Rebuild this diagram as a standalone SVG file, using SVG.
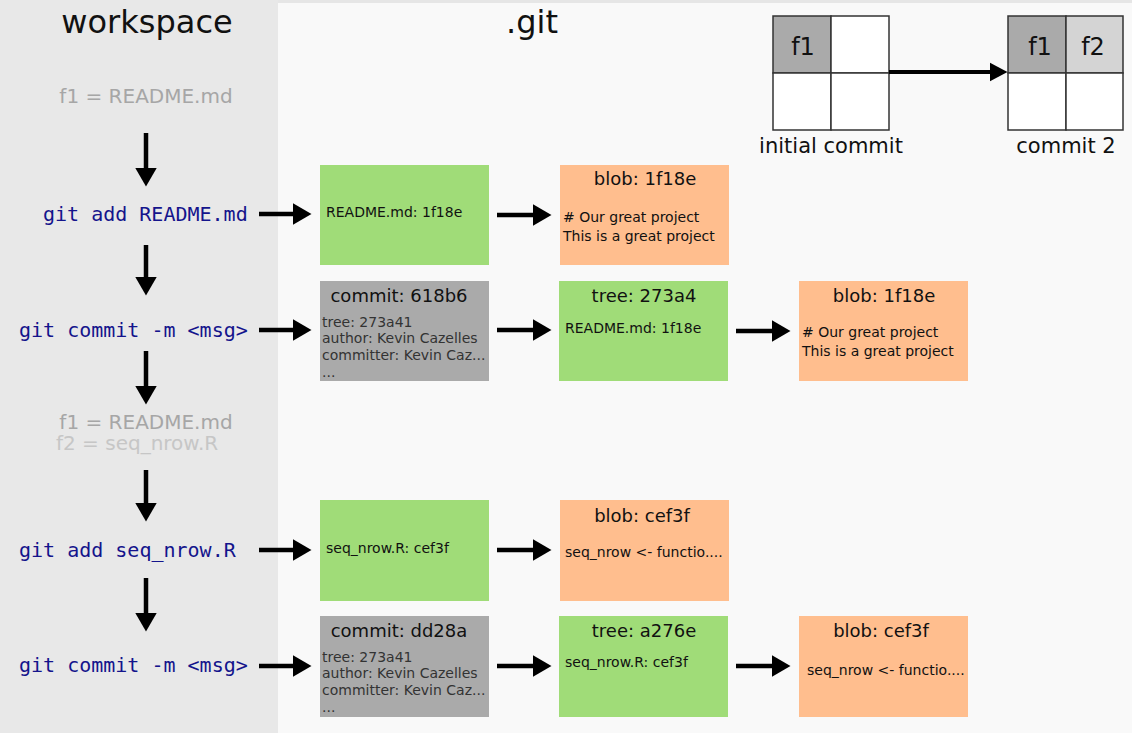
<svg xmlns="http://www.w3.org/2000/svg" width="1132" height="733" viewBox="0 0 1132 733">
<style>
.sans{font-family:"DejaVu Sans","Liberation Sans",sans-serif}
.mono{font-family:"DejaVu Sans Mono","Liberation Mono",monospace;font-size:20px;fill:#14148c}
.h1{font-size:32px;fill:#111;text-anchor:middle}
.ws1{font-size:20px;fill:#a6a6a6}
.ws2{font-size:20px;fill:#c6c6c6}
.title{font-size:18px;fill:#111;text-anchor:middle}
.body{font-size:14px;fill:#111}
.cbody{font-size:14px;fill:#333}
.green{fill:#a0dc78}
.orange{fill:#ffbe8e}
.gray{fill:#aaaaaa}
.cell{stroke:#333;stroke-width:1.5}
.grid{font-size:24px;fill:#111;text-anchor:middle}
.lbl{font-size:21px;fill:#111;text-anchor:middle}
.conn{stroke:#000;stroke-width:4.5;fill:none;marker-end:url(#head)}
.conn2{stroke:#000;stroke-width:4;fill:none;marker-end:url(#head2)}
</style>
<defs>
<marker id="head" markerUnits="userSpaceOnUse" markerWidth="20" markerHeight="24" viewBox="0 0 20 24" refX="0.5" refY="12" orient="auto">
<path d="M0,1 L19,12 L0,23 Z" fill="#000"/>
</marker>
<marker id="head2" markerUnits="userSpaceOnUse" markerWidth="20" markerHeight="22" viewBox="0 0 20 22" refX="0.5" refY="11" orient="auto">
<path d="M0,1.5 L18,11 L0,20.5 Z" fill="#000"/>
</marker>
</defs>
<rect x="0" y="0" width="1132" height="733" fill="#f9f9f9"/>
<rect x="0" y="0" width="1132" height="3" fill="#e6e6e6"/>
<rect x="0" y="0" width="278" height="733" fill="#e8e8e8"/>

<g id="headers">
<text class="sans h1" x="147" y="33">workspace</text>
<text class="sans h1" x="532" y="33">.git</text>
</g>

<g id="workspace">
<text class="sans ws1" x="146" y="103" text-anchor="middle">f1 = README.md</text>
<text class="mono" x="43" y="221">git add README.md</text>
<text class="mono" x="19" y="337">git commit -m &lt;msg&gt;</text>
<text class="sans ws1" x="146" y="429" text-anchor="middle">f1 = README.md</text>
<text class="sans ws2" x="56" y="450">f2 = seq_nrow.R</text>
<text class="mono" x="19" y="557">git add seq_nrow.R</text>
<text class="mono" x="19" y="672">git commit -m &lt;msg&gt;</text>
</g>

<g id="grid-initial">
<rect class="cell" x="773" y="16" width="58" height="57" fill="#aaaaaa"/>
<rect class="cell" x="831" y="16" width="58" height="57" fill="#ffffff"/>
<rect class="cell" x="773" y="73" width="58" height="57" fill="#ffffff"/>
<rect class="cell" x="831" y="73" width="58" height="57" fill="#ffffff"/>
<text class="sans grid" x="803" y="55">f1</text>
<text class="sans lbl" x="831" y="153">initial commit</text>
</g>
<g id="grid-commit2">
<rect class="cell" x="1008" y="16" width="58" height="57" fill="#aaaaaa"/>
<rect class="cell" x="1066" y="16" width="57" height="57" fill="#d4d4d4"/>
<rect class="cell" x="1008" y="73" width="58" height="57" fill="#ffffff"/>
<rect class="cell" x="1066" y="73" width="57" height="57" fill="#ffffff"/>
<text class="sans grid" x="1040" y="55">f1</text>
<text class="sans grid" x="1093" y="55">f2</text>
<text class="sans lbl" x="1066" y="153">commit 2</text>
</g>

<g id="index-1">
<rect class="green" x="320" y="165" width="169" height="100"/>
<text class="sans body" x="326" y="217">README.md: 1f18e</text>
</g>
<g id="blob-1">
<rect class="orange" x="560" y="165" width="169" height="100"/>
<text class="sans title" x="645" y="185">blob: 1f18e</text>
<text class="sans body" x="563" y="222">
<tspan x="563" y="222"># Our great project</tspan>
<tspan x="563" y="241">This is a great project</tspan>
</text>
</g>

<g id="commit-1">
<rect class="gray" x="320" y="281" width="169" height="100"/>
<text class="sans title" x="399" y="302">commit: 618b6</text>
<text class="sans cbody">
<tspan x="322" y="327">tree: 273a41</tspan>
<tspan x="322" y="343">author: Kevin Cazelles</tspan>
<tspan x="322" y="360">committer: Kevin Caz...</tspan>
<tspan x="322" y="377">...</tspan>
</text>
</g>
<g id="tree-1">
<rect class="green" x="559" y="281" width="169" height="100"/>
<text class="sans title" x="644" y="302">tree: 273a4</text>
<text class="sans body" x="565" y="333">README.md: 1f18e</text>
</g>
<g id="blob-2">
<rect class="orange" x="799" y="281" width="169" height="100"/>
<text class="sans title" x="884" y="302">blob: 1f18e</text>
<text class="sans body">
<tspan x="802" y="337"># Our great project</tspan>
<tspan x="802" y="356">This is a great project</tspan>
</text>
</g>

<g id="index-2">
<rect class="green" x="320" y="500" width="169" height="101"/>
<text class="sans body" x="326" y="553">seq_nrow.R: cef3f</text>
</g>
<g id="blob-3">
<rect class="orange" x="560" y="500" width="169" height="101"/>
<text class="sans title" x="642" y="522">blob: cef3f</text>
<text class="sans body" x="565" y="557">seq_nrow &lt;- functio....</text>
</g>

<g id="commit-2">
<rect class="gray" x="320" y="616" width="169" height="101"/>
<text class="sans title" x="399" y="637">commit: dd28a</text>
<text class="sans cbody">
<tspan x="322" y="662">tree: 273a41</tspan>
<tspan x="322" y="678">author: Kevin Cazelles</tspan>
<tspan x="322" y="695">committer: Kevin Caz...</tspan>
<tspan x="322" y="712">...</tspan>
</text>
</g>
<g id="tree-2">
<rect class="green" x="559" y="616" width="169" height="101"/>
<text class="sans title" x="644" y="637">tree: a276e</text>
<text class="sans body" x="565" y="667">seq_nrow.R: cef3f</text>
</g>
<g id="blob-4">
<rect class="orange" x="799" y="616" width="169" height="101"/>
<text class="sans title" x="881" y="637">blob: cef3f</text>
<text class="sans body" x="807" y="675">seq_nrow &lt;- functio....</text>
</g>

<g id="connectors">
<line class="conn" x1="146" y1="133" x2="146" y2="168"/>
<line class="conn" x1="146" y1="245" x2="146" y2="277"/>
<line class="conn" x1="146" y1="351" x2="146" y2="386"/>
<line class="conn" x1="146" y1="470" x2="146" y2="503"/>
<line class="conn" x1="146" y1="578" x2="146" y2="613"/>

<line class="conn" x1="259" y1="214" x2="293" y2="214"/>
<line class="conn" x1="259" y1="330" x2="293" y2="330"/>
<line class="conn" x1="259" y1="550" x2="293" y2="550"/>
<line class="conn" x1="259" y1="666" x2="293" y2="666"/>

<line class="conn" x1="497" y1="215" x2="533" y2="215"/>
<line class="conn" x1="497" y1="330" x2="533" y2="330"/>
<line class="conn" x1="497" y1="550" x2="533" y2="550"/>
<line class="conn" x1="497" y1="666" x2="533" y2="666"/>

<line class="conn" x1="736" y1="331" x2="772" y2="331"/>
<line class="conn" x1="736" y1="666" x2="772" y2="666"/>

<line class="conn2" x1="889" y1="72" x2="990" y2="72"/>
</g>
</svg>
